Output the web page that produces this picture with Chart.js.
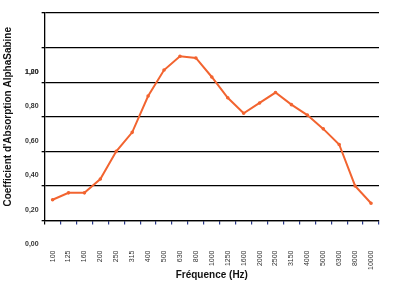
<!DOCTYPE html>
<html>
<head>
<meta charset="utf-8">
<script src="https://cdn.jsdelivr.net/npm/chart.js@4/dist/chart.umd.min.js"></script>
<style>
  html, body { margin: 0; padding: 0; background: #fff; }
  #wrap { width: 395px; height: 283px; }
</style>
</head>
<body>
<div id="wrap"><canvas id="chart"></canvas></div>
<script>
const frequencies = ["100", "125", "160", "200", "250", "315", "400", "500", "630", "800", "1000",
  "1250", "1600", "2000", "2500", "3150", "4000", "5000", "6300", "8000", "10000"];
const absorption = [0.26, 0.30, 0.30, 0.38, 0.54, 0.65, 0.86, 1.01, 1.09, 1.08, 0.97,
  0.85, 0.76, 0.82, 0.88, 0.81, 0.75, 0.67, 0.58, 0.34, 0.24];

// gridlines sit a bit above the printed labels in the original
const yGridValues = [0.14, 0.34, 0.54, 0.74, 0.94, 1.14, 1.34];
const yTickLabels = ["0,00", "0,20", "0,40", "0,60", "0,80", "1,00", ""];
const yOverlapLabel = "1,20";

const labelFont = { family: "'Liberation Sans', Arial, sans-serif", size: 7, weight: "bold" };

// the "1,20" label is printed on top of "1,00" in the source
const overlapLabel = {
  id: "overlapLabel",
  afterDraw(chart) {
    const y = chart.scales.y;
    const ctx = chart.ctx;
    const item = y.getLabelItems()[5];
    if (!item) return;
    ctx.save();
    ctx.font = "bold 7px 'Liberation Sans', Arial, sans-serif";
    ctx.fillStyle = "#333";
    ctx.textAlign = "right";
    ctx.textBaseline = "middle";
    ctx.fillText(yOverlapLabel, item.options.translation[0], item.options.translation[1]);
    ctx.restore();
  }
};

new Chart(document.getElementById("chart"), {
  type: "line",
  data: {
    labels: frequencies,
    datasets: [{
      data: absorption,
      borderColor: "#f26430",
      backgroundColor: "#f26430",
      borderWidth: 2,
      pointRadius: 0.8,
      tension: 0
    }]
  },
  options: {
    responsive: true,
    maintainAspectRatio: false,
    animation: false,
    layout: { padding: { top: 13, right: 16, left: 2, bottom: 2 } },
    plugins: { legend: { display: false }, tooltip: { enabled: false } },
    scales: {
      x: {
        offset: true,
        // big tick padding would otherwise eat space at the sides
        afterFit: scale => {
          scale.paddingLeft = 0;
          scale.paddingRight = 0;
        },
        grid: {
          offset: true,
          drawOnChartArea: false,
          tickLength: 4,
          color: ctx => ctx.index === 0 ? "#000" : "#2b3a8c",
          lineWidth: 1.2
        },
        border: { color: "#000", width: 1.3 },
        ticks: {
          autoSkip: false,
          maxRotation: 90,
          minRotation: 90,
          padding: 26,
          color: "#333",
          font: { family: "'Liberation Sans', Arial, sans-serif", size: 7 }
        },
        title: {
          display: true,
          text: "Fréquence (Hz)",
          color: "#111",
          padding: { top: -27, bottom: 0 },
          font: { family: "'Liberation Sans', Arial, sans-serif", size: 10, weight: "bold" }
        }
      },
      y: {
        min: 0.14,
        max: 1.34,
        afterBuildTicks: scale => {
          scale.ticks = yGridValues.map(v => ({ value: v }));
        },
        grid: { color: "#000", lineWidth: 1.3, tickLength: 3 },
        border: { color: "#000", width: 1.3 },
        ticks: {
          labelOffset: 24,
          padding: 3,
          color: "#333",
          font: labelFont,
          callback: (value, index) => yTickLabels[index]
        },
        title: {
          display: true,
          text: "Coefficient d'Absorption AlphaSabine",
          color: "#111",
          padding: { top: 0, bottom: 8 },
          font: { family: "'Liberation Sans', Arial, sans-serif", size: 10, weight: "bold" }
        }
      }
    }
  },
  plugins: [overlapLabel]
});
</script>
</body>
</html>
